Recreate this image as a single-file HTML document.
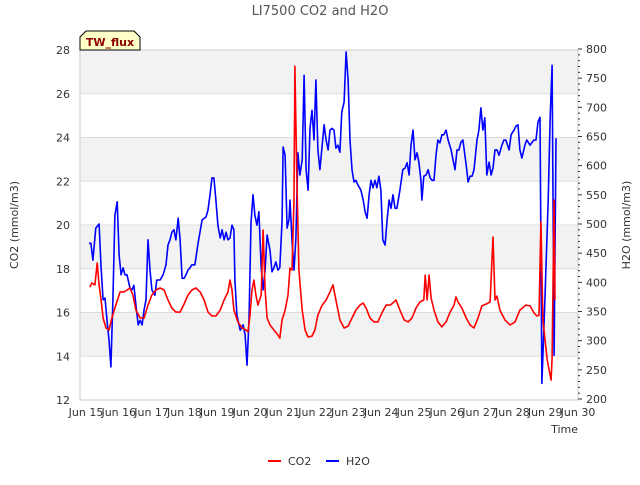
<!DOCTYPE html>
<html><head><meta charset="utf-8"><style>
body{margin:0;background:#fff;font-family:"Liberation Sans","DejaVu Sans",sans-serif}
svg text{font-family:"DejaVu Sans","Liberation Sans",sans-serif}
</style></head><body>
<svg id="chart" width="640" height="480" xmlns="http://www.w3.org/2000/svg">
<text x="320" y="15" text-anchor="middle" font-size="13" fill="#555">LI7500 CO2 and H2O</text>
<g id="bands"></g><g id="grid"></g>
<rect x="80" y="50" width="498" height="350" fill="none" stroke="#ccc"/>
<g id="axes"></g>
<g id="series"></g>
<text transform="translate(18,225) rotate(-90)" text-anchor="middle" font-size="11" fill="#333">CO2 (mmol/m3)</text>
<text transform="translate(630,225) rotate(-90)" text-anchor="middle" font-size="11" fill="#333">H2O (mmol/m3)</text>
<text x="578" y="433" text-anchor="end" font-size="11" fill="#333">Time</text>
<g>
<path d="M80,50 L80,37 L86,31 L134,31 L140,37 L140,50 Z" fill="#ffffc8" stroke="#000" stroke-width="1"/>
<text x="110" y="46" text-anchor="middle" font-size="11" font-weight="bold" fill="#8b0000">TW_flux</text>
</g>
<g>
<g><line x1="268" y1="461" x2="281" y2="461" stroke="#f00" stroke-width="2"/><text x="288" y="465" font-size="11" fill="#333">CO2</text></g>
<g><line x1="326" y1="461" x2="339" y2="461" stroke="#00f" stroke-width="2"/><text x="346" y="465" font-size="11" fill="#333">H2O</text></g>
</g>
</svg>
<script>
const co2Times=[15.12,15.18,15.27,15.34,15.40,15.46,15.52,15.61,15.70,15.79,15.91,16.04,16.16,16.25,16.34,16.43,16.52,16.65,16.77,16.89,17.01,17.13,17.26,17.38,17.50,17.62,17.74,17.87,17.99,18.11,18.23,18.35,18.48,18.60,18.72,18.84,18.96,19.09,19.21,19.33,19.39,19.45,19.51,19.63,19.76,19.88,19.94,20.00,20.06,20.12,20.18,20.24,20.34,20.40,20.46,20.52,20.61,20.73,20.85,20.91,20.98,21.07,21.16,21.22,21.28,21.34,21.37,21.43,21.49,21.59,21.68,21.77,21.89,21.98,22.07,22.20,22.32,22.44,22.53,22.62,22.74,22.87,22.99,23.11,23.23,23.35,23.45,23.54,23.66,23.78,23.90,24.02,24.15,24.27,24.39,24.45,24.57,24.70,24.82,24.94,25.06,25.18,25.30,25.34,25.40,25.46,25.52,25.61,25.73,25.85,25.98,26.10,26.22,26.28,26.34,26.46,26.59,26.71,26.83,26.95,27.07,27.20,27.32,27.41,27.47,27.53,27.62,27.77,27.93,28.08,28.23,28.41,28.54,28.66,28.75,28.81,28.87,28.93,29.06,29.18,29.21,29.27,29.30];
const co2Values=[17.16,17.35,17.26,18.26,17.26,16.57,15.75,15.29,15.2,15.75,16.34,16.94,16.94,17.03,17.12,16.8,16.11,15.75,15.75,16.34,16.8,17.03,17.12,17.03,16.57,16.2,16.02,16.02,16.39,16.8,17.03,17.12,16.94,16.57,16.02,15.84,15.84,16.11,16.57,16.94,17.48,17.03,16.11,15.57,15.29,15.2,15.11,15.88,17.03,17.48,16.8,16.34,16.8,19.77,17.03,15.75,15.43,15.2,14.97,14.83,15.66,16.11,16.8,18.03,17.94,21.14,27.26,22.05,17.94,16.11,15.2,14.88,14.92,15.2,15.88,16.34,16.57,16.94,17.26,16.57,15.66,15.29,15.38,15.75,16.11,16.34,16.43,16.2,15.75,15.57,15.57,15.98,16.34,16.34,16.48,16.57,16.11,15.66,15.57,15.75,16.2,16.48,16.57,17.71,16.57,17.71,16.66,16.11,15.57,15.34,15.57,16.02,16.34,16.71,16.48,16.2,15.75,15.43,15.29,15.75,16.3,16.39,16.48,19.45,16.57,16.75,16.11,15.66,15.43,15.57,16.11,16.34,16.3,15.98,15.84,15.88,20.14,15.66,13.83,12.91,13.92,21.14,16.57];
const h2oTimes=[15.09,15.15,15.21,15.30,15.40,15.46,15.52,15.58,15.64,15.70,15.76,15.82,15.88,15.95,16.01,16.07,16.13,16.19,16.25,16.34,16.40,16.46,16.52,16.59,16.65,16.71,16.77,16.83,16.89,16.95,17.01,17.10,17.16,17.26,17.35,17.44,17.50,17.56,17.62,17.68,17.74,17.81,17.87,17.93,17.99,18.05,18.11,18.17,18.23,18.32,18.41,18.54,18.66,18.72,18.78,18.84,18.90,18.96,19.02,19.09,19.15,19.21,19.27,19.33,19.39,19.45,19.51,19.54,19.60,19.70,19.79,19.85,19.88,19.91,19.97,20.03,20.09,20.15,20.21,20.27,20.34,20.40,20.46,20.52,20.61,20.67,20.73,20.79,20.85,20.91,20.98,21.01,21.07,21.13,21.19,21.22,21.28,21.34,21.40,21.46,21.52,21.59,21.65,21.71,21.77,21.83,21.89,21.95,22.01,22.07,22.13,22.20,22.26,22.32,22.38,22.44,22.50,22.56,22.62,22.68,22.74,22.80,22.87,22.93,22.99,23.05,23.11,23.17,23.23,23.29,23.38,23.45,23.51,23.57,23.63,23.69,23.75,23.81,23.87,23.93,23.99,24.05,24.12,24.18,24.24,24.30,24.36,24.42,24.48,24.57,24.66,24.73,24.79,24.85,24.91,24.97,25.03,25.09,25.15,25.21,25.24,25.30,25.37,25.43,25.49,25.55,25.61,25.67,25.73,25.79,25.85,25.91,25.98,26.04,26.13,26.19,26.25,26.31,26.37,26.43,26.49,26.59,26.65,26.71,26.77,26.83,26.92,26.98,27.04,27.10,27.16,27.22,27.29,27.35,27.41,27.47,27.53,27.59,27.68,27.74,27.80,27.90,27.96,28.05,28.11,28.17,28.23,28.29,28.38,28.44,28.54,28.60,28.66,28.72,28.78,28.84,28.90,28.99,29.09,29.15,29.21,29.27,29.33];
const h2oValues=[467,467,438,493,500,425,370,373,335,301,255,370,515,538,447,413,425,413,413,390,387,395,361,327,335,327,353,370,473,421,387,378,404,404,413,430,464,473,486,490,473,510,473,407,407,413,421,425,430,430,464,507,512,524,550,579,579,541,498,476,490,473,486,473,476,498,490,404,344,318,327,310,284,258,335,502,550,515,498,521,425,387,421,481,455,418,425,435,421,425,507,632,618,493,507,541,473,421,476,622,584,610,755,593,558,664,695,644,747,627,593,635,670,644,627,661,664,661,630,635,623,692,709,795,747,644,593,572,575,567,558,541,521,510,550,575,562,575,562,582,558,473,464,507,541,527,550,527,527,558,593,596,605,584,635,661,610,622,606,575,541,582,584,593,579,575,575,618,644,639,653,653,661,644,627,610,593,627,627,640,644,601,572,582,582,593,644,661,699,661,682,584,606,584,596,627,627,618,635,644,644,627,653,661,668,670,627,613,635,644,635,640,644,644,675,683,227,370,541,678,772,275,647];
const xTickDays=[14,15,16,17,18,19,20,21,22,23,24,25,26,27,28,29,30];
const co2Ticks=[12,14,16,18,20,22,24,26,28];
const h2oTicks=[200,250,300,350,400,450,500,550,600,650,700,750,800];

const NS='http://www.w3.org/2000/svg';
const X0=86, DAY=32.8;
function xScale(d){return X0+(d-15)*DAY;}
function yCO2(v){return 400-(v-12)*(350/16);}
function yH2O(v){return 399-(v-200)*(350/600);}
function mk(tag,attrs,parent){const e=document.createElementNS(NS,tag);for(const k in attrs)e.setAttribute(k,attrs[k]);parent.appendChild(e);return e;}
const bands=document.getElementById('bands'),grid=document.getElementById('grid'),axes=document.getElementById('axes'),series=document.getElementById('series');
for(let i=0;i<co2Ticks.length-1;i++){
  if(i%2===1){
    const r=mk('rect',{x:80,y:yCO2(co2Ticks[i+1]),width:498,height:yCO2(co2Ticks[i])-yCO2(co2Ticks[i+1]),fill:'#f2f2f2'},bands);
    
    
  }
}
co2Ticks.forEach(v=>{
  const l=mk('line',{x1:80,x2:578,y1:yCO2(v),y2:yCO2(v),stroke:'#ddd'},grid);
  
  
  const t=mk('text',{x:70,y:yCO2(v)+4,'text-anchor':'end','font-size':11,fill:'#333'},axes);
  t.textContent=v;
  
  
});
h2oTicks.forEach(v=>{
  const t=mk('text',{x:586,y:yH2O(v)+4,'font-size':11,fill:'#333'},axes);
  t.textContent=v;
  
  
  mk('line',{x1:578,x2:582,y1:yH2O(v),y2:yH2O(v),stroke:'#333'},axes);
});
for(let v=210;v<800;v+=10){if(v%50)mk('line',{x1:578,x2:580,y1:yH2O(v),y2:yH2O(v),stroke:'#333'},axes);}
xTickDays.forEach((d,i)=>{
  const x=xScale(d);
  if(x<60)return;
  const t=mk('text',{x:x,y:416,'text-anchor':'middle','font-size':11,fill:'#333'},axes);
  t.textContent='Jun '+d;
  
  
});
function line(times,vals,ys,color,name){
  const d=times.map((t,i)=>(i?'L':'M')+xScale(t).toFixed(1)+','+ys(vals[i]).toFixed(1)).join('');
  const p=mk('path',{d:d,fill:'none',stroke:color,'stroke-width':1.6,'stroke-linejoin':'round'},series);
  
  
}
line(h2oTimes,h2oValues,yH2O,'#0000ff','h2o-line');
line(co2Times,co2Values,yCO2,'#ff0000','co2-line');
</script>
</body></html>
